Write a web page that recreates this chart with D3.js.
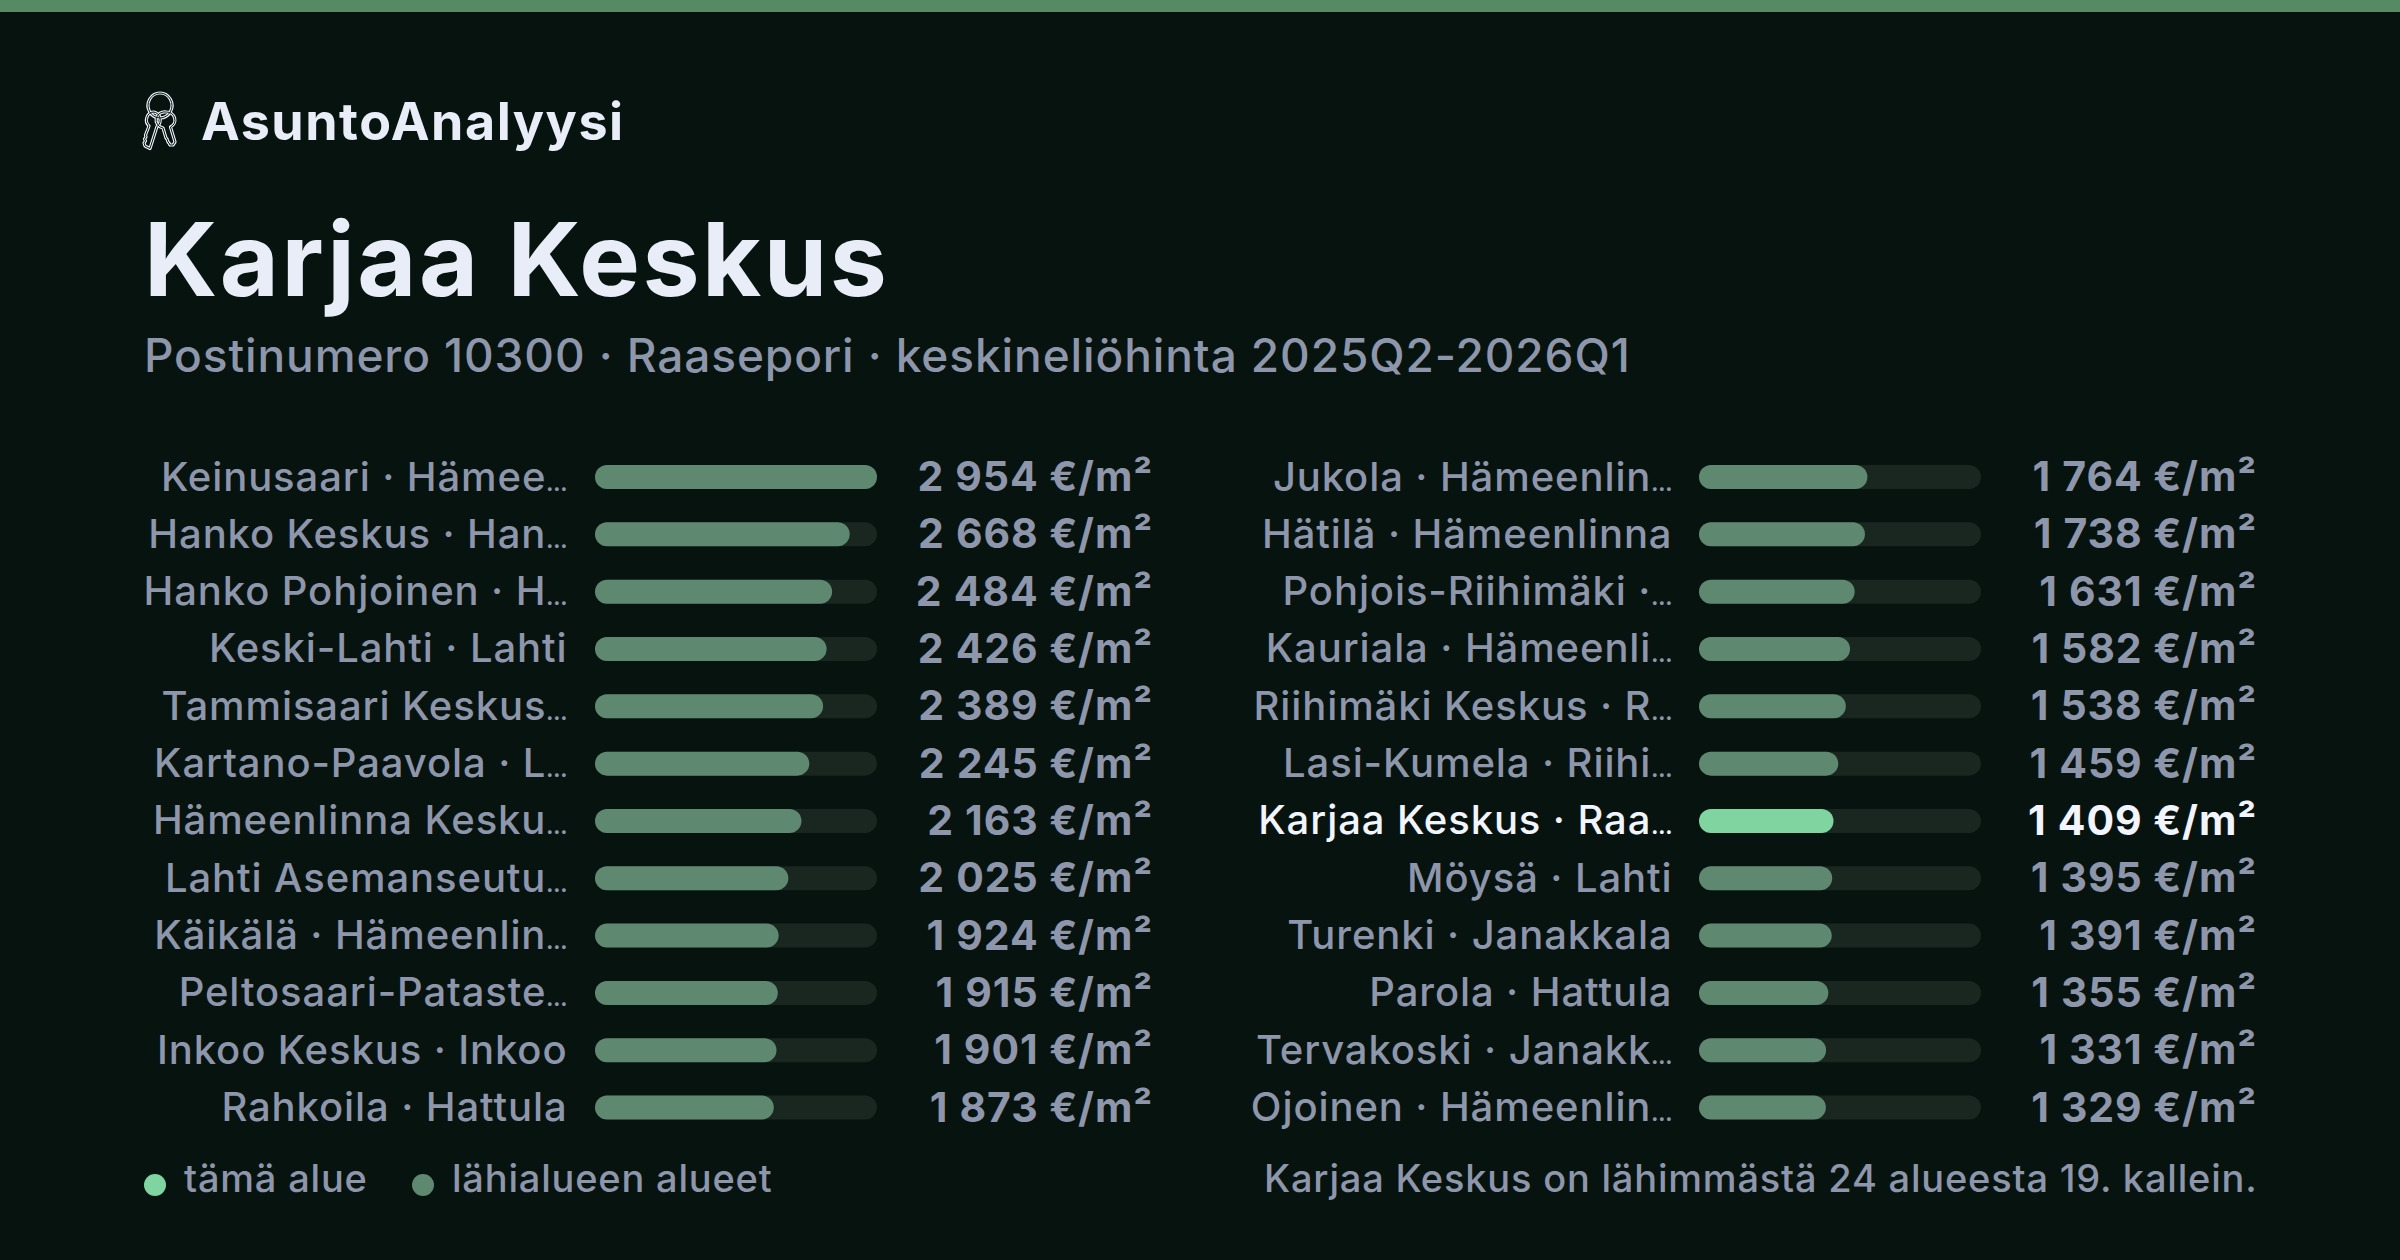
<!DOCTYPE html>
<html>
<head>
<meta charset="utf-8">
<script src="https://cdn.jsdelivr.net/npm/d3@7"></script>
<style>
  html, body { margin: 0; padding: 0; background: #07130f; }
  svg { display: block; }
  text { font-family: Inter, "Noto Sans", sans-serif; }
  .c-brand { font-size: 52px; font-weight: 700; fill: #e9edf8; letter-spacing: 1.5px; }
  .c-title { font-size: 102px; font-weight: 700; fill: #e9edf8; letter-spacing: 2.5px; }
  .c-subtitle { font-size: 46px; font-weight: 500; fill: #8e96ab; letter-spacing: 0.9px; }
  .c-row__label { font-size: 40px; font-weight: 500; fill: #8e96ab; text-anchor: end; letter-spacing: 0.9px; }
  .c-row__ellipsis { font-size: 20px; font-weight: 800; letter-spacing: 0; }
  .c-row__value { font-size: 41px; font-weight: 700; fill: #8e96ab; text-anchor: end; letter-spacing: 0.9px; }
  .c-row--active .c-row__label, .c-row--active .c-row__value { fill: #f2f5ff; }
  .c-note { font-size: 38px; font-weight: 500; fill: #8e96ab; letter-spacing: 0.8px; }
</style>
</head>
<body>
<script>
const names = [
  "Keinusaari · Hämee…", "Hanko Keskus · Han…", "Hanko Pohjoinen · H…", "Keski-Lahti · Lahti",
  "Tammisaari Keskus…", "Kartano-Paavola · L…", "Hämeenlinna Kesku…", "Lahti Asemanseutu…",
  "Käikälä · Hämeenlin…", "Peltosaari-Pataste…", "Inkoo Keskus · Inkoo", "Rahkoila · Hattula",
  "Jukola · Hämeenlin…", "Hätilä · Hämeenlinna", "Pohjois-Riihimäki ·…", "Kauriala · Hämeenli…",
  "Riihimäki Keskus · R…", "Lasi-Kumela · Riihi…", "Karjaa Keskus · Raa…", "Möysä · Lahti",
  "Turenki · Janakkala", "Parola · Hattula", "Tervakoski · Janakk…", "Ojoinen · Hämeenlin…"
];
const prices = [
  2954, 2668, 2484, 2426, 2389, 2245, 2163, 2025, 1924, 1915, 1901, 1873,
  1764, 1738, 1631, 1582, 1538, 1459, 1409, 1395, 1391, 1355, 1331, 1329
];
const activeName = "Karjaa Keskus · Raa…";
const legendLabels = ["tämä alue", "lähialueen alueet"];

const width = 2400;
const height = 1260;
const rowsPerColumn = 12;
const barHeight = 24;
const activeColor = "#7fd4a0";
const barColor = "#5f8870";
const trackColor = "#1a2620";

const svg = d3.select("body").append("svg")
  .attr("width", width)
  .attr("height", height);

svg.append("rect")
  .attr("width", width)
  .attr("height", height)
  .attr("fill", "#07130f");

svg.append("rect")
  .attr("width", width)
  .attr("height", 12)
  .attr("fill", "#568a63");

// Key ring icon, thick light stroke with a dark core gives the outlined look
const icon = svg.append("g").attr("fill", "none").attr("stroke-linejoin", "round");
const iconPaths = [
  "M160 93 a12 12.5 0 1 0 0.01 0",
  "M153 112 a7.5 8 0 0 1 4 14.5 l-7 22 -5 -2.5 -1 -3 1.5 -2 -1 -2 1.5 -2 -0.5 -2 3.5 -9 a7.5 8 0 0 1 4.5 -14",
  "M166.5 112 a8.5 8 0 0 1 4 15 l4.5 15 -2 3 -3 0 -1 -2 -1 -1 -1 -3 -1 -1 -3 -10 a8.5 8 0 0 1 3.5 -16"
];
[["#eef1fa", 3.2], ["#07130f", 1]].forEach(([stroke, strokeWidth]) => {
  icon.selectAll(null)
    .data(iconPaths)
    .enter()
    .append("path")
    .attr("d", d => d)
    .attr("stroke", stroke)
    .attr("stroke-width", strokeWidth);
});

svg.append("text").attr("class", "c-brand").attr("x", 201).attr("y", 140).text("AsuntoAnalyysi");
svg.append("text").attr("class", "c-title").attr("x", 144).attr("y", 296).text("Karjaa Keskus");
svg.append("text").attr("class", "c-subtitle").attr("x", 144).attr("y", 372)
  .text("Postinumero 10300 · Raasepori · keskineliöhinta 2025Q2-2026Q1");

const fmt = d3.formatLocale({ decimal: ",", thousands: "\u2005", grouping: [3], currency: ["", ""] }).format(",d");

const rows = names.map((name, i) => ({ name, price: prices[i], index: i }));

// Same y scale for both columns, one x scale per column
const y = d3.scaleLinear().domain([0, rowsPerColumn - 1]).range([477, 1107.6]);
const barX = [
  d3.scaleLinear().domain([0, d3.max(prices)]).range([595, 877]),
  d3.scaleLinear().domain([0, d3.max(prices)]).range([1699, 1981])
];
const labelX = [567.5, 1672.5];
const valueX = [1153, 2257];

const columnOf = d => Math.floor(d.index / rowsPerColumn);
const rowOf = d => d.index % rowsPerColumn;

const row = svg.selectAll("g.c-row")
  .data(rows)
  .enter()
  .append("g")
  .attr("class", d => (d.name === activeName ? "c-row c-row--active" : "c-row"))
  .attr("transform", d => `translate(0,${y(rowOf(d))})`);

const label = row.append("text")
  .attr("class", "c-row__label")
  .attr("x", d => labelX[columnOf(d)])
  .attr("y", 13.5);

// The cut-off mark is much narrower in the original, so it gets a smaller, heavier size
label.append("tspan").text(d => d.name.replace("…", ""));
label.filter(d => d.name.endsWith("…"))
  .append("tspan")
  .attr("class", "c-row__ellipsis")
  .text("…");

row.append("rect")
  .attr("x", d => barX[columnOf(d)](0))
  .attr("y", -barHeight / 2)
  .attr("width", d => barX[columnOf(d)](d3.max(prices)) - barX[columnOf(d)](0))
  .attr("height", barHeight)
  .attr("rx", barHeight / 2)
  .attr("fill", trackColor);

row.append("rect")
  .attr("x", d => barX[columnOf(d)](0))
  .attr("y", -barHeight / 2)
  .attr("width", d => barX[columnOf(d)](d.price) - barX[columnOf(d)](0))
  .attr("height", barHeight)
  .attr("rx", barHeight / 2)
  .attr("fill", d => (d.name === activeName ? activeColor : barColor));

row.append("text")
  .attr("class", "c-row__value")
  .attr("x", d => valueX[columnOf(d)])
  .attr("y", 14)
  .text(d => `${fmt(d.price)} €/m²`);

// Legend
const legendX = [155, 423];
const legendTextX = [184, 452];
const legendColors = [activeColor, barColor];
legendLabels.forEach((label, i) => {
  svg.append("circle")
    .attr("cx", legendX[i])
    .attr("cy", 1185)
    .attr("r", 11)
    .attr("fill", legendColors[i]);
  svg.append("text")
    .attr("class", "c-note")
    .attr("x", legendTextX[i])
    .attr("y", 1192)
    .text(label);
});

const rank = prices.indexOf(prices[names.indexOf(activeName)]) + 1;
svg.append("text")
  .attr("class", "c-note")
  .attr("x", 2257.5)
  .attr("y", 1192)
  .attr("text-anchor", "end")
  .text(`Karjaa Keskus on lähimmästä ${names.length} alueesta ${rank}. kallein.`);
</script>
</body>
</html>
